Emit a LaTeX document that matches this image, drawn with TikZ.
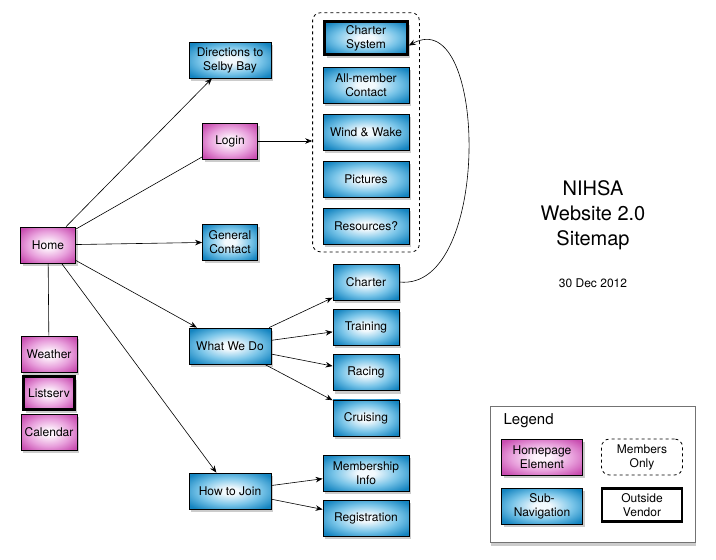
\documentclass[tikz,border=0pt]{standalone}
\usepackage{fontspec}
\setmainfont{TeX Gyre Heros}
\usetikzlibrary{arrows.meta}
\usetikzlibrary{positioning}
\usetikzlibrary{shadows}
\usetikzlibrary{fit}
\definecolor{bluedark}{RGB}{20,132,192}
\definecolor{bluemid}{RGB}{120,196,232}
\definecolor{bluelight}{RGB}{242,249,253}
\definecolor{pinkdark}{RGB}{200,76,176}
\definecolor{pinkmid}{RGB}{232,160,220}
\definecolor{pinklight}{RGB}{253,242,251}
\pgfdeclareradialshading{bluefade}{\pgfpoint{0bp}{0bp}}{color(0bp)=(bluelight);
	color(5bp)=(bluelight); color(19bp)=(bluemid); color(32bp)=(bluedark); color(50bp)=(bluedark)}
\pgfdeclareradialshading{pinkfade}{\pgfpoint{0bp}{0bp}}{color(0bp)=(pinklight);
	color(5bp)=(pinklight); color(19bp)=(pinkmid); color(32bp)=(pinkdark); color(50bp)=(pinkdark)}

\begin{document}
\begin{tikzpicture}[x=1pt,y=-1pt,>={Stealth[length=7pt,width=5.5pt]},
			semithick,font=\fontsize{12}{14}\selectfont,
			box/.style={draw,line width=0.8pt,align=center,inner sep=1pt,
				minimum height=36pt,minimum width=#1},
			box/.default=55pt,
			shadowbox/.style={box=#1,
				drop shadow={shadow xshift=2pt,shadow yshift=-3pt,opacity=0.4}},
			homebox/.style={shadowbox=#1,shading=pinkfade},
			homebox/.default=55pt,
			subbox/.style={shadowbox=#1,shading=bluefade},
			subbox/.default=82pt,
			vendor/.style={line width=2.6pt,minimum height=33pt}]
			\useasboundingbox (0,0) rectangle (716,560);

			% home page
			\node[homebox] (home) at (48,245) {Home};
			\node[homebox=56pt] (weather) at (49,354) {Weather};
			\node[homebox=51pt,vendor,below=3pt of weather.south] (listserv) {Listserv};
			\node[homebox=56pt,below=3pt of listserv.south] (calendar) {Calendar};

			\node[subbox] (directions) at (230,60) {Directions to\\Selby Bay};
			\node[homebox] (login) at (230,141) {Login};
			\node[subbox=55pt] (contact) at (230,242) {General\\Contact};
			\node[subbox] (whatwedo) at (230,346) {What We Do};
			\node[subbox] (join) at (230,491) {How to Join};

			% members only
			\begin{scope}[node distance=47pt]
			\node[subbox=83pt,vendor] (chsys) at (366,38) {Charter\\System};
			\node[subbox=86pt] (allmember) [below of=chsys] {All-member\\Contact};
			\node[subbox=86pt] (windwake) [below of=allmember] {Wind \& Wake};
			\node[subbox=86pt] (pictures) [below of=windwake] {Pictures};
			\node[subbox=86pt] (resources) [below of=pictures] {Resources?};
			\end{scope}
			\node[draw,dashed,line width=0.8pt,rounded corners=8pt,inner xsep=10pt,
				inner ysep=7.5pt,fit=(chsys)(resources)] (members) {};

			\begin{scope}[node distance=45.3pt]
			\node[subbox=66pt] (charter) at (366,282) {Charter};
			\node[subbox=66pt] (training) [below of=charter] {Training};
			\node[subbox=66pt] (racing) [below of=training] {Racing};
			\node[subbox=66pt] (cruising) [below of=racing] {Cruising};
			\end{scope}

			\node[subbox=86pt] (memberinfo) at (366,473) {Membership\\Info};
			\node[subbox=86pt] (registration) at (366,518) {Registration};

			% title
			\node[align=center,font=\fontsize{20}{25}\selectfont] (title) at (593,215)
				{NIHSA\\Website 2.0\\Sitemap};
			\node (date) at (593,283) {30 Dec 2012};

			% legend
			\node[draw=black!55,fill=white,line width=0.8pt,minimum width=205pt,minimum height=136pt,
				drop shadow={shadow xshift=1pt,shadow yshift=-4pt,opacity=0.4}] (legend) at (592.5,474) {};
			\node[anchor=west,font=\fontsize{15}{18}\selectfont] (legendtitle) at (500,421) {Legend};
			\node[homebox=81pt] (lhome) at (542,457) {Homepage\\Element};
			\node[box=81pt,dashed,rounded corners=8pt] (lmembers) at (642,457) {Members\\Only};
			\node[subbox=81pt] (lsub) at (542,506) {Sub-\\Navigation};
			\node[box=80pt,vendor] (lvendor) at (642,505) {Outside\\Vendor};

			\path[->]
			(home) edge (directions)
			       edge [-] (login)
			       edge (contact)
			       edge (whatwedo)
			       edge (join)
			       edge [-] (weather)
			(whatwedo) edge (charter)
			           edge (training)
			           edge (racing)
			           edge (cruising)
			(join) edge (memberinfo)
			       edge (registration)
			;
			\draw[->] (login.east) -- (login.east -| members.west);
			\draw[->] (charter.east) .. controls (492,292) and (488,2) .. (chsys.-10);
\end{tikzpicture}
\end{document}
